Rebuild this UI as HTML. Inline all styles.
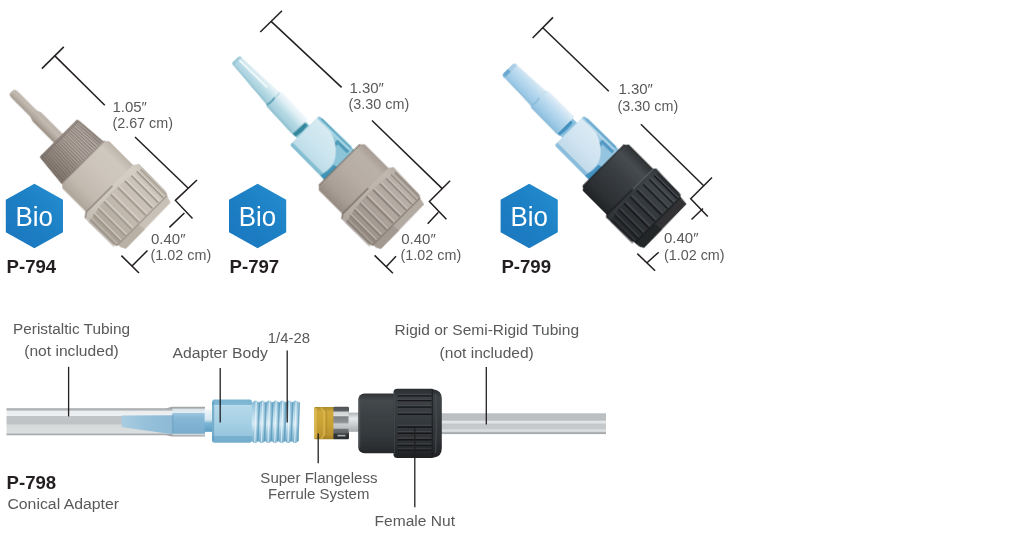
<!DOCTYPE html>
<html>
<head>
<meta charset="utf-8">
<title>Conical Adapters</title>
<style>
html,body{margin:0;padding:0;background:#fff;}
body{width:1030px;height:534px;overflow:hidden;font-family:"Liberation Sans",sans-serif;}
svg{display:block;}
text{font-family:"Liberation Sans",sans-serif;}
.dim{stroke:#231f20;stroke-width:1.5;fill:none;stroke-linecap:butt;}
.lead{stroke:#231f20;stroke-width:1.3;fill:none;}
.t{font-size:15px;fill:#58595b;}
.lbl{font-size:15.5px;fill:#58595b;}
.pn{font-size:18.6px;font-weight:bold;fill:#231f20;}
.bio{font-size:27.8px;fill:#fff;}
</style>
</head>
<body>
<svg width="1030" height="534" viewBox="0 0 1030 534">
<defs>
  <linearGradient id="hexg" x1="0" y1="1" x2="1" y2="0">
    <stop offset="0" stop-color="#1a76be"/>
    <stop offset="0.55" stop-color="#1d80c5"/>
    <stop offset="1" stop-color="#258fd0"/>
  </linearGradient>
  <filter id="soft" x="-5%" y="-5%" width="110%" height="110%"><feGaussianBlur stdDeviation="0.55"/></filter>
  <linearGradient id="f1pin" gradientUnits="userSpaceOnUse" x1="0" y1="-6.2" x2="0" y2="6.2"><stop offset="0" stop-color="#bab1a8"/><stop offset="0.35" stop-color="#c3bab1"/><stop offset="0.7" stop-color="#b0a69c"/><stop offset="1" stop-color="#978d83"/></linearGradient>
<linearGradient id="f1col" gradientUnits="userSpaceOnUse" x1="0" y1="-28" x2="0" y2="29"><stop offset="0" stop-color="#9f948c"/><stop offset="0.1" stop-color="#bdb2aa"/><stop offset="0.4" stop-color="#b5aaa2"/><stop offset="0.75" stop-color="#9c9188"/><stop offset="1" stop-color="#82776f"/></linearGradient>
<linearGradient id="n1b" gradientUnits="userSpaceOnUse" x1="0" y1="-34.0" x2="0" y2="32.400000000000006"><stop offset="0" stop-color="#bdb4aa"/><stop offset="0.15" stop-color="#cfc8bf"/><stop offset="0.45" stop-color="#cdc5bc"/><stop offset="0.8" stop-color="#c1b8ae"/><stop offset="1" stop-color="#aca399"/></linearGradient>
<linearGradient id="n1h" gradientUnits="userSpaceOnUse" x1="0" y1="-39.0" x2="0" y2="37.400000000000006"><stop offset="0" stop-color="#b5aca2"/><stop offset="0.12" stop-color="#cdc6bd"/><stop offset="0.5" stop-color="#c6bdb3"/><stop offset="0.82" stop-color="#b5aca1"/><stop offset="1" stop-color="#9f958b"/></linearGradient>
<linearGradient id="c2c" gradientUnits="userSpaceOnUse" x1="0" y1="-21" x2="0" y2="21"><stop offset="0" stop-color="#6fb1c9"/><stop offset="0.08" stop-color="#9ccfe0"/><stop offset="0.2" stop-color="#8cc4d8"/><stop offset="0.8" stop-color="#8fc6d8"/><stop offset="0.9" stop-color="#86bfd3"/><stop offset="1" stop-color="#74b3c9"/></linearGradient>
<linearGradient id="c2f" gradientUnits="userSpaceOnUse" x1="0" y1="-18" x2="0" y2="18"><stop offset="0" stop-color="#d7ebf2"/><stop offset="0.6" stop-color="#cbe4ee"/><stop offset="1" stop-color="#bcdce8"/></linearGradient>
<linearGradient id="n2b" gradientUnits="userSpaceOnUse" x1="0" y1="-32.4" x2="0" y2="32.4"><stop offset="0" stop-color="#a69c94"/><stop offset="0.15" stop-color="#bab1a9"/><stop offset="0.45" stop-color="#b7ada5"/><stop offset="0.8" stop-color="#a99f97"/><stop offset="1" stop-color="#958b83"/></linearGradient>
<linearGradient id="n2h" gradientUnits="userSpaceOnUse" x1="0" y1="-36.4" x2="0" y2="36.4"><stop offset="0" stop-color="#9f958d"/><stop offset="0.12" stop-color="#b9b0a8"/><stop offset="0.5" stop-color="#b0a69e"/><stop offset="0.82" stop-color="#a0968e"/><stop offset="1" stop-color="#8b8179"/></linearGradient>
<linearGradient id="f2cone" gradientUnits="userSpaceOnUse" x1="0" y1="-12.4" x2="0" y2="9"><stop offset="0" stop-color="#f1f8fb"/><stop offset="0.22" stop-color="#e2f0f5"/><stop offset="0.4" stop-color="#cbe5ed"/><stop offset="0.55" stop-color="#b8dbe6"/><stop offset="0.8" stop-color="#a7d0dd"/><stop offset="1" stop-color="#93c3d2"/></linearGradient>
<linearGradient id="f3tube" gradientUnits="userSpaceOnUse" x1="0" y1="-13.5" x2="0" y2="11.3"><stop offset="0" stop-color="#e4f0f8"/><stop offset="0.18" stop-color="#d0e5f3"/><stop offset="0.42" stop-color="#b9d9ee"/><stop offset="0.7" stop-color="#a3cde8"/><stop offset="1" stop-color="#89bee0"/></linearGradient>
<linearGradient id="c3c" gradientUnits="userSpaceOnUse" x1="0" y1="-21.4" x2="0" y2="20.6"><stop offset="0" stop-color="#6dadd2"/><stop offset="0.08" stop-color="#a3cee6"/><stop offset="0.2" stop-color="#93c4e0"/><stop offset="0.8" stop-color="#97c7e1"/><stop offset="0.9" stop-color="#8bbedb"/><stop offset="1" stop-color="#74b0d3"/></linearGradient>
<linearGradient id="c3f" gradientUnits="userSpaceOnUse" x1="0" y1="-18.4" x2="0" y2="17.6"><stop offset="0" stop-color="#dcebf4"/><stop offset="0.6" stop-color="#cfe3f0"/><stop offset="1" stop-color="#c0daea"/></linearGradient>
<linearGradient id="n3b" gradientUnits="userSpaceOnUse" x1="0" y1="-32.2" x2="0" y2="33.0"><stop offset="0" stop-color="#2e3134"/><stop offset="0.18" stop-color="#474c50"/><stop offset="0.45" stop-color="#393d41"/><stop offset="0.8" stop-color="#2e3134"/><stop offset="1" stop-color="#212426"/></linearGradient>
<linearGradient id="n3h" gradientUnits="userSpaceOnUse" x1="0" y1="-34.4" x2="0" y2="35.199999999999996"><stop offset="0" stop-color="#2a2d30"/><stop offset="0.14" stop-color="#42474b"/><stop offset="0.5" stop-color="#34383b"/><stop offset="0.82" stop-color="#2a2d30"/><stop offset="1" stop-color="#1e2022"/></linearGradient>
<linearGradient id="ptube" gradientUnits="userSpaceOnUse" x1="0" y1="408.3" x2="0" y2="435.2"><stop offset="0" stop-color="#a3a7a9"/><stop offset="0.07" stop-color="#b4b8ba"/><stop offset="0.1" stop-color="#e9ebec"/><stop offset="0.27" stop-color="#eef0f1"/><stop offset="0.29" stop-color="#c2c5c7"/><stop offset="0.58" stop-color="#bfc2c4"/><stop offset="0.62" stop-color="#d6d9da"/><stop offset="0.92" stop-color="#dcdfe0"/><stop offset="0.95" stop-color="#b0b4b6"/><stop offset="1" stop-color="#9da1a3"/></linearGradient>
<linearGradient id="pcone" gradientUnits="userSpaceOnUse" x1="121" y1="0" x2="172" y2="0"><stop offset="0" stop-color="#a9cde1"/><stop offset="0.5" stop-color="#96c0da"/><stop offset="1" stop-color="#8ebad6"/></linearGradient>
<linearGradient id="pcone2" gradientUnits="userSpaceOnUse" x1="0" y1="413" x2="0" y2="434"><stop offset="0" stop-color="#9cc6de"/><stop offset="0.25" stop-color="#86b7d5"/><stop offset="0.6" stop-color="#7fb2d2"/><stop offset="1" stop-color="#78accd"/></linearGradient>
<linearGradient id="aneck" gradientUnits="userSpaceOnUse" x1="0" y1="409.6" x2="0" y2="431.8"><stop offset="0" stop-color="#eef5f9"/><stop offset="0.45" stop-color="#d5e8f2"/><stop offset="0.62" stop-color="#7cb4d4"/><stop offset="1" stop-color="#5b9fc6"/></linearGradient>
<linearGradient id="ahex" gradientUnits="userSpaceOnUse" x1="0" y1="399.6" x2="0" y2="442.8"><stop offset="0" stop-color="#79b3d0"/><stop offset="0.115" stop-color="#80b9d5"/><stop offset="0.13" stop-color="#c0deec"/><stop offset="0.16" stop-color="#b3d8e9"/><stop offset="0.5" stop-color="#a8d1e5"/><stop offset="0.83" stop-color="#97c6de"/><stop offset="0.845" stop-color="#78b0cf"/><stop offset="1" stop-color="#75adcc"/></linearGradient>
<linearGradient id="athr" gradientUnits="userSpaceOnUse" x1="0" y1="400" x2="0" y2="443.5"><stop offset="0" stop-color="#7db4d0"/><stop offset="0.15" stop-color="#9cc9e0"/><stop offset="0.42" stop-color="#c3e0ee"/><stop offset="0.55" stop-color="#d3e9f3"/><stop offset="0.75" stop-color="#9dc9e0"/><stop offset="1" stop-color="#6fa8c8"/></linearGradient>
<linearGradient id="fer" gradientUnits="userSpaceOnUse" x1="0" y1="407" x2="0" y2="439.2"><stop offset="0" stop-color="#ae8a2a"/><stop offset="0.15" stop-color="#cfa93c"/><stop offset="0.5" stop-color="#c9a235"/><stop offset="0.85" stop-color="#bd9530"/><stop offset="1" stop-color="#a27f26"/></linearGradient>
<linearGradient id="ring" gradientUnits="userSpaceOnUse" x1="0" y1="406.8" x2="0" y2="439.2"><stop offset="0" stop-color="#4d5154"/><stop offset="0.12" stop-color="#5d6164"/><stop offset="0.17" stop-color="#cfd2d3"/><stop offset="0.27" stop-color="#dcdedf"/><stop offset="0.31" stop-color="#7e8284"/><stop offset="0.48" stop-color="#8e9294"/><stop offset="0.53" stop-color="#c9cccd"/><stop offset="0.66" stop-color="#bdc0c2"/><stop offset="0.7" stop-color="#6e7274"/><stop offset="0.8" stop-color="#5e6264"/><stop offset="0.85" stop-color="#33363a"/><stop offset="1" stop-color="#2a2c2e"/></linearGradient>
<linearGradient id="stub" gradientUnits="userSpaceOnUse" x1="0" y1="412.6" x2="0" y2="431.8"><stop offset="0" stop-color="#b0b4b6"/><stop offset="0.3" stop-color="#e6e8e9"/><stop offset="0.6" stop-color="#cdd0d2"/><stop offset="1" stop-color="#a7abad"/></linearGradient>
<linearGradient id="rtube" gradientUnits="userSpaceOnUse" x1="0" y1="413.4" x2="0" y2="434.1"><stop offset="0" stop-color="#adb1b3"/><stop offset="0.05" stop-color="#babec0"/><stop offset="0.33" stop-color="#bcc0c2"/><stop offset="0.38" stop-color="#e5e7e8"/><stop offset="0.47" stop-color="#dee1e2"/><stop offset="0.52" stop-color="#c5c8ca"/><stop offset="0.75" stop-color="#c7cacc"/><stop offset="0.8" stop-color="#e0e2e3"/><stop offset="0.88" stop-color="#d5d8d9"/><stop offset="0.92" stop-color="#aeb2b4"/><stop offset="1" stop-color="#a3a7a9"/></linearGradient>
<linearGradient id="bnb" gradientUnits="userSpaceOnUse" x1="0" y1="393.4" x2="0" y2="453.2"><stop offset="0" stop-color="#303336"/><stop offset="0.12" stop-color="#44494c"/><stop offset="0.35" stop-color="#3d4144"/><stop offset="0.7" stop-color="#35393c"/><stop offset="1" stop-color="#26292b"/></linearGradient>
<linearGradient id="bnh" gradientUnits="userSpaceOnUse" x1="0" y1="388.8" x2="0" y2="458"><stop offset="0" stop-color="#292c2f"/><stop offset="0.12" stop-color="#3d4245"/><stop offset="0.4" stop-color="#383c3f"/><stop offset="0.75" stop-color="#2e3134"/><stop offset="1" stop-color="#1f2123"/></linearGradient>
</defs>

<!-- ============ DIMENSION LINES ============ -->
<g class="dim" id="dims">
  <!-- P-794 -->
  <path d="M41.9,68.6 L63.8,46.9"/>
  <path d="M54.6,55.6 L104.8,105.3"/>
  <path d="M135,137 L188,188"/>
  <path d="M197,180 L175.4,200.4 L192.5,218.4"/>
  <path d="M184.4,213 L169.4,227.4"/>
  <path d="M147.5,250.5 L132,266"/>
  <path d="M121.4,255.6 L139,273"/>
  <!-- P-797 -->
  <path d="M260.3,32 L282,10.8"/>
  <path d="M271.1,21.4 L341.6,87.4"/>
  <path d="M372,120.5 L442.2,188.6"/>
  <path d="M450.1,180.7 L429.4,201.4 L446.4,219.2"/>
  <path d="M438.4,212.3 L427.7,223.8"/>
  <path d="M396,256.2 L386.2,266.7"/>
  <path d="M374.6,255.4 L392.9,273.2"/>
  <!-- P-799 -->
  <path d="M532.6,38 L553,17.4"/>
  <path d="M542.8,27.7 L608.8,91.3"/>
  <path d="M640.9,124.2 L703.7,185.8"/>
  <path d="M712,177.5 L690.7,198.8 L707.8,216.6"/>
  <path d="M703,208.5 L691.5,219.5"/>
  <path d="M658.7,252.2 L646.7,263"/>
  <path d="M637.3,253.6 L655.1,270.7"/>
</g>

<!-- ============ DIMENSION TEXT ============ -->
<g class="t" id="dimtext" opacity="0.999">
  <text x="112.4" y="111.6">1.05″</text>
  <text x="112.4" y="128.4" textLength="60.6" lengthAdjust="spacingAndGlyphs">(2.67 cm)</text>
  <text x="151" y="243.6">0.40″</text>
  <text x="150.6" y="260" textLength="60.6" lengthAdjust="spacingAndGlyphs">(1.02 cm)</text>

  <text x="349.4" y="93.2">1.30″</text>
  <text x="348.6" y="109.3" textLength="60.6" lengthAdjust="spacingAndGlyphs">(3.30 cm)</text>
  <text x="401.2" y="243.6">0.40″</text>
  <text x="400.6" y="260.4" textLength="60.6" lengthAdjust="spacingAndGlyphs">(1.02 cm)</text>

  <text x="618.4" y="94.4">1.30″</text>
  <text x="617.6" y="111.3" textLength="60.6" lengthAdjust="spacingAndGlyphs">(3.30 cm)</text>
  <text x="664" y="243">0.40″</text>
  <text x="664" y="260" textLength="60.6" lengthAdjust="spacingAndGlyphs">(1.02 cm)</text>
</g>

<!-- ============ FITTING 1 : P-794 ============ -->
<g id="fit1" transform="translate(12.2,92.2) rotate(45)" filter="url(#soft)">
  <path d="M-0.8,-2.8 L0.8,-4 L3.5,-4.5 L30,-4.5 L33,-5.6 L35,-6.2 L66,-6.2 L66,6.2 L35,6.2 L33,5.6 L30,4.5 L3.5,4.5 L0.8,4 L-0.8,2.8 Z" fill="url(#f1pin)"/>
<path d="M30,-4 Q34,-1 35,5.6" stroke="#b3aaa0" stroke-width="0.8" fill="none" stroke-opacity="0.7"/>
<path d="M67,-27.2 L98.8,-29.7 L100.5,30 L67,26.8 Q65.2,26.6 65.2,25 L65.2,-25.4 Q65.2,-27.2 67,-27.2 Z" fill="url(#f1col)"/>
<line x1="67.8" y1="-26.20" x2="99.5" y2="-28.70" stroke="#675e57" stroke-width="1.05" stroke-opacity="0.72"/>
<line x1="67.8" y1="-23.84" x2="99.5" y2="-26.08" stroke="#675e57" stroke-width="1.05" stroke-opacity="0.72"/>
<line x1="67.8" y1="-21.47" x2="99.5" y2="-23.45" stroke="#675e57" stroke-width="1.05" stroke-opacity="0.72"/>
<line x1="67.8" y1="-19.11" x2="99.5" y2="-20.83" stroke="#675e57" stroke-width="1.05" stroke-opacity="0.72"/>
<line x1="67.8" y1="-16.75" x2="99.5" y2="-18.21" stroke="#675e57" stroke-width="1.05" stroke-opacity="0.72"/>
<line x1="67.8" y1="-14.38" x2="99.5" y2="-15.59" stroke="#675e57" stroke-width="1.05" stroke-opacity="0.72"/>
<line x1="67.8" y1="-12.02" x2="99.5" y2="-12.96" stroke="#675e57" stroke-width="1.05" stroke-opacity="0.72"/>
<line x1="67.8" y1="-9.65" x2="99.5" y2="-10.34" stroke="#675e57" stroke-width="1.05" stroke-opacity="0.72"/>
<line x1="67.8" y1="-7.29" x2="99.5" y2="-7.72" stroke="#675e57" stroke-width="1.05" stroke-opacity="0.72"/>
<line x1="67.8" y1="-4.93" x2="99.5" y2="-5.10" stroke="#675e57" stroke-width="1.05" stroke-opacity="0.72"/>
<line x1="67.8" y1="-2.56" x2="99.5" y2="-2.47" stroke="#675e57" stroke-width="1.05" stroke-opacity="0.72"/>
<line x1="67.8" y1="-0.20" x2="99.5" y2="0.15" stroke="#675e57" stroke-width="1.05" stroke-opacity="0.72"/>
<line x1="67.8" y1="2.16" x2="99.5" y2="2.77" stroke="#675e57" stroke-width="1.05" stroke-opacity="0.72"/>
<line x1="67.8" y1="4.53" x2="99.5" y2="5.40" stroke="#675e57" stroke-width="1.05" stroke-opacity="0.72"/>
<line x1="67.8" y1="6.89" x2="99.5" y2="8.02" stroke="#675e57" stroke-width="1.05" stroke-opacity="0.72"/>
<line x1="67.8" y1="9.25" x2="99.5" y2="10.64" stroke="#675e57" stroke-width="1.05" stroke-opacity="0.72"/>
<line x1="67.8" y1="11.62" x2="99.5" y2="13.26" stroke="#675e57" stroke-width="1.05" stroke-opacity="0.72"/>
<line x1="67.8" y1="13.98" x2="99.5" y2="15.89" stroke="#675e57" stroke-width="1.05" stroke-opacity="0.72"/>
<line x1="67.8" y1="16.35" x2="99.5" y2="18.51" stroke="#675e57" stroke-width="1.05" stroke-opacity="0.72"/>
<line x1="67.8" y1="18.71" x2="99.5" y2="21.13" stroke="#675e57" stroke-width="1.05" stroke-opacity="0.72"/>
<line x1="67.8" y1="21.07" x2="99.5" y2="23.75" stroke="#675e57" stroke-width="1.05" stroke-opacity="0.72"/>
<line x1="67.8" y1="23.44" x2="99.5" y2="26.38" stroke="#675e57" stroke-width="1.05" stroke-opacity="0.72"/>
<line x1="67.8" y1="25.80" x2="99.5" y2="29.00" stroke="#675e57" stroke-width="1.05" stroke-opacity="0.72"/>
<rect x="65.2" y="-26.4" width="2.8" height="52.6" fill="#6d645e" fill-opacity="0.55"/>
<polygon points="99.60,-30.70 103.40,-34.00 137.10,-34.00 137.10,32.40 103.40,32.40 99.60,29.10" fill="url(#n1b)"/>
<path d="M99.60,-30.70 L99.60,29.10" stroke="#857c75" stroke-width="1.3" fill="none" stroke-opacity="0.75"/>
<polygon points="137.10,-34.00 140.60,-39.00 178.60,-38.40 182.60,-36.40 182.60,34.80 178.60,36.80 140.60,37.40 137.10,32.40" fill="url(#n1h)"/>
<polygon points="137.10,-34.00 140.60,-39.00 146.10,-38.80 142.60,-20.80 141.10,-0.80 142.60,19.20 146.10,37.20 140.60,37.40 137.10,32.40" fill="#d9d3ca" fill-opacity="0.6"/>
<line x1="145.1" y1="-36.88" x2="181.4" y2="-36.88" stroke="#93897f" stroke-width="1.03" stroke-opacity="0.85"/>
<line x1="145.1" y1="-37.76" x2="181.4" y2="-37.76" stroke="#e3ded6" stroke-width="0.83" stroke-opacity="0.7"/>
<line x1="144.0" y1="-32.26" x2="181.4" y2="-32.26" stroke="#93897f" stroke-width="1.43" stroke-opacity="0.85"/>
<line x1="144.0" y1="-33.47" x2="181.4" y2="-33.47" stroke="#e3ded6" stroke-width="1.14" stroke-opacity="0.7"/>
<line x1="143.2" y1="-25.48" x2="181.4" y2="-25.48" stroke="#93897f" stroke-width="1.75" stroke-opacity="0.85"/>
<line x1="143.2" y1="-26.97" x2="181.4" y2="-26.97" stroke="#e3ded6" stroke-width="1.40" stroke-opacity="0.7"/>
<line x1="142.5" y1="-17.03" x2="181.4" y2="-17.03" stroke="#93897f" stroke-width="1.99" stroke-opacity="0.85"/>
<line x1="142.5" y1="-18.72" x2="181.4" y2="-18.72" stroke="#e3ded6" stroke-width="1.59" stroke-opacity="0.7"/>
<line x1="142.2" y1="-7.47" x2="181.4" y2="-7.47" stroke="#93897f" stroke-width="2.12" stroke-opacity="0.85"/>
<line x1="142.2" y1="-9.27" x2="181.4" y2="-9.27" stroke="#e3ded6" stroke-width="1.70" stroke-opacity="0.7"/>
<line x1="142.1" y1="2.55" x2="181.4" y2="2.55" stroke="#93897f" stroke-width="2.14" stroke-opacity="0.85"/>
<line x1="142.1" y1="0.72" x2="181.4" y2="0.72" stroke="#e3ded6" stroke-width="1.71" stroke-opacity="0.7"/>
<line x1="142.4" y1="12.33" x2="181.4" y2="12.33" stroke="#93897f" stroke-width="2.05" stroke-opacity="0.85"/>
<line x1="142.4" y1="10.59" x2="181.4" y2="10.59" stroke="#e3ded6" stroke-width="1.64" stroke-opacity="0.7"/>
<line x1="142.9" y1="21.23" x2="181.4" y2="21.23" stroke="#93897f" stroke-width="1.84" stroke-opacity="0.85"/>
<line x1="142.9" y1="19.66" x2="181.4" y2="19.66" stroke="#e3ded6" stroke-width="1.47" stroke-opacity="0.7"/>
<line x1="143.7" y1="28.62" x2="181.4" y2="28.62" stroke="#93897f" stroke-width="1.54" stroke-opacity="0.85"/>
<line x1="143.7" y1="27.30" x2="181.4" y2="27.30" stroke="#e3ded6" stroke-width="1.23" stroke-opacity="0.7"/>
<line x1="144.7" y1="34.00" x2="181.4" y2="34.00" stroke="#93897f" stroke-width="1.17" stroke-opacity="0.85"/>
<line x1="144.7" y1="33.01" x2="181.4" y2="33.01" stroke="#e3ded6" stroke-width="0.93" stroke-opacity="0.7"/>
<line x1="145.8" y1="37.02" x2="181.4" y2="37.02" stroke="#93897f" stroke-width="0.75" stroke-opacity="0.85"/>
<line x1="145.8" y1="36.38" x2="181.4" y2="36.38" stroke="#e3ded6" stroke-width="0.60" stroke-opacity="0.7"/>
<path d="M137.10,-4.80 L137.10,32.40 L140.60,37.40" stroke="#7d746c" stroke-width="1.5" fill="none" stroke-opacity="0.75"/>
<polygon points="182.10,-36.40 190.10,-33.90 191.10,30.30 187.10,32.60 182.10,33.30" fill="#c9c1b7"/>
<polygon points="182.60,4.20 190.90,3.20 191.10,30.30 187.10,32.60 182.10,33.30" fill="#b0a79d" fill-opacity="0.65"/>
<path d="M182.60,-36.40 L182.60,34.80" stroke="#978e84" stroke-width="1.2" fill="none" stroke-opacity="0.9"/>
</g>

<!-- ============ FITTING 2 : P-797 ============ -->
<g id="fit2c" transform="translate(235.3,59.5) rotate(47.3)" filter="url(#soft)">
  <path d="M92,-9.5 L104,-10 L104,8 L92,8 Z" fill="#8dc6d8"/>
<path d="M92.5,-8 L97.5,-8.4 Q99.2,0 97.5,8.2 L92.5,8.5 Z" fill="#2f8199" fill-opacity="0.92"/>
<path d="M0,-4.4 L1.5,-6 L54,-10.3 L56,-12.4 L92,-12.6 L93.5,-11 L93.5,7.6 L92,8.8 L56,8.8 L54,7.6 L1.5,5.2 L0,4 Z" fill="url(#f2cone)"/>
<path d="M54.6,-3 Q56.3,3 54.5,7.8" stroke="#4a96ae" stroke-width="1.8" fill="none" stroke-opacity="0.9"/>
<path d="M54.2,-10 Q55.8,-6 54.6,-3" stroke="#9fccd9" stroke-width="1.4" fill="none" stroke-opacity="0.7"/>
<path d="M3,-2.6 L42,-4.6" stroke="#ffffff" stroke-width="1.5" fill="none" stroke-opacity="0.9"/>
<path d="M0,-4.4 L1.5,-6 L3.2,-6.1 L3.2,5.3 L1.5,5.2 L0,4 Z" fill="#9ac7d6" fill-opacity="0.75"/>
<path d="M1.5,5.2 L54,7.6 L54,5.6 L1.5,3.9 Z" fill="#8dbfce" fill-opacity="0.6"/>
<path d="M56,8.8 L92,8.8 L92,6.6 L56,6.6 Z" fill="#8dbfce" fill-opacity="0.5"/>
</g>
<g id="fit2" transform="translate(339.3,164.8) rotate(45)" filter="url(#soft)">
  <path d="M-46.6,-20.6 L0.0,-21.0 L0.0,21.2 L-46.6,21.0 Q-48.8,21.0 -48.8,18.8 L-48.8,-18.4 Q-48.8,-20.6 -46.6,-20.6 Z" fill="url(#c2c)"/>
<path d="M-45.0,-21.0 L-4.0,-21.6 L-4.0,-19.4 L-45.0,-19.0 Z" fill="#5ba6c2" fill-opacity="0.9"/>
<path d="M-40.0,-18.3 L-4.0,-18.6 L-4.0,-17.0 L-40.0,-16.9 Z" fill="#b5dce9" fill-opacity="0.8"/>
<path d="M-19.0,-16.6 L-2.5,-17.0 L-2.5,-13.6 L-15.5,-13.4 L-15.5,-10.0 L-19.0,-10.0 Z" fill="#4796b6" fill-opacity="0.9"/>
<path d="M-48.8,-17.2 L-29.0,-17.0 Q-18.0,-13.5 -11.0,-6.0 Q-4.5,1.0 -4.2,10.0 Q-4.2,14.0 -5.5,17.4 L-48.8,17.6 Z" fill="url(#c2f)"/>
<path d="M-4.2,4.0 L0.0,3.0 L0.0,21.2 L-6.0,21.1 Q-3.6,13.0 -4.2,4.0 Z" fill="#3a8fb2" fill-opacity="0.9"/>
<path d="M-48.8,17.6 L-5.5,17.4 L-6.0,21.1 L-46.6,21.0 Q-48.8,21.0 -48.8,18.8 Z" fill="#86bfd2" fill-opacity="0.9"/>
<polygon points="0.00,-29.10 3.60,-32.40 37.00,-32.40 37.00,32.40 3.60,32.40 0.00,29.10" fill="url(#n2b)"/>
<path d="M0.00,-29.10 L0.00,29.10" stroke="#71685f" stroke-width="1.3" fill="none" stroke-opacity="0.75"/>
<polygon points="37.00,-32.40 40.00,-36.40 76.50,-35.80 80.50,-33.80 80.50,33.80 76.50,35.80 40.00,36.40 37.00,32.40" fill="url(#n2h)"/>
<polygon points="37.00,-32.40 40.00,-36.40 45.50,-36.20 42.00,-20.00 40.50,0.00 42.00,20.00 45.50,36.20 40.00,36.40 37.00,32.40" fill="#c6beb6" fill-opacity="0.6"/>
<line x1="44.5" y1="-34.39" x2="79.3" y2="-34.39" stroke="#80766e" stroke-width="1.03" stroke-opacity="0.85"/>
<line x1="44.5" y1="-35.27" x2="79.3" y2="-35.27" stroke="#d2cbc3" stroke-width="0.83" stroke-opacity="0.7"/>
<line x1="43.4" y1="-29.98" x2="79.3" y2="-29.98" stroke="#80766e" stroke-width="1.43" stroke-opacity="0.85"/>
<line x1="43.4" y1="-31.19" x2="79.3" y2="-31.19" stroke="#d2cbc3" stroke-width="1.14" stroke-opacity="0.7"/>
<line x1="42.6" y1="-23.53" x2="79.3" y2="-23.53" stroke="#80766e" stroke-width="1.75" stroke-opacity="0.85"/>
<line x1="42.6" y1="-25.02" x2="79.3" y2="-25.02" stroke="#d2cbc3" stroke-width="1.40" stroke-opacity="0.7"/>
<line x1="41.9" y1="-15.47" x2="79.3" y2="-15.47" stroke="#80766e" stroke-width="1.99" stroke-opacity="0.85"/>
<line x1="41.9" y1="-17.16" x2="79.3" y2="-17.16" stroke="#d2cbc3" stroke-width="1.59" stroke-opacity="0.7"/>
<line x1="41.6" y1="-6.36" x2="79.3" y2="-6.36" stroke="#80766e" stroke-width="2.12" stroke-opacity="0.85"/>
<line x1="41.6" y1="-8.16" x2="79.3" y2="-8.16" stroke="#d2cbc3" stroke-width="1.70" stroke-opacity="0.7"/>
<line x1="41.5" y1="3.19" x2="79.3" y2="3.19" stroke="#80766e" stroke-width="2.14" stroke-opacity="0.85"/>
<line x1="41.5" y1="1.37" x2="79.3" y2="1.37" stroke="#d2cbc3" stroke-width="1.71" stroke-opacity="0.7"/>
<line x1="41.8" y1="12.52" x2="79.3" y2="12.52" stroke="#80766e" stroke-width="2.05" stroke-opacity="0.85"/>
<line x1="41.8" y1="10.78" x2="79.3" y2="10.78" stroke="#d2cbc3" stroke-width="1.64" stroke-opacity="0.7"/>
<line x1="42.3" y1="20.99" x2="79.3" y2="20.99" stroke="#80766e" stroke-width="1.84" stroke-opacity="0.85"/>
<line x1="42.3" y1="19.43" x2="79.3" y2="19.43" stroke="#d2cbc3" stroke-width="1.47" stroke-opacity="0.7"/>
<line x1="43.1" y1="28.04" x2="79.3" y2="28.04" stroke="#80766e" stroke-width="1.54" stroke-opacity="0.85"/>
<line x1="43.1" y1="26.73" x2="79.3" y2="26.73" stroke="#d2cbc3" stroke-width="1.23" stroke-opacity="0.7"/>
<line x1="44.1" y1="33.17" x2="79.3" y2="33.17" stroke="#80766e" stroke-width="1.17" stroke-opacity="0.85"/>
<line x1="44.1" y1="32.18" x2="79.3" y2="32.18" stroke="#d2cbc3" stroke-width="0.93" stroke-opacity="0.7"/>
<line x1="45.2" y1="36.04" x2="79.3" y2="36.04" stroke="#80766e" stroke-width="0.75" stroke-opacity="0.85"/>
<line x1="45.2" y1="35.41" x2="79.3" y2="35.41" stroke="#d2cbc3" stroke-width="0.60" stroke-opacity="0.7"/>
<path d="M37.00,-4.00 L37.00,32.40 L40.00,36.40" stroke="#6b625b" stroke-width="1.5" fill="none" stroke-opacity="0.75"/>
<polygon points="80.00,-33.80 88.00,-32.00 89.00,30.00 85.00,32.30 80.00,33.00" fill="#b3aaa2"/>
<polygon points="80.50,5.00 88.80,4.00 89.00,30.00 85.00,32.30 80.00,33.00" fill="#9a9088" fill-opacity="0.65"/>
<path d="M80.50,-33.80 L80.50,33.80" stroke="#857b73" stroke-width="1.2" fill="none" stroke-opacity="0.9"/>
</g>

<!-- ============ FITTING 3 : P-799 ============ -->
<g id="fit3" transform="translate(507.7,69) rotate(45)" filter="url(#soft)">
  <rect x="79" y="-11" width="10" height="21" fill="#8fc3e0"/>
<path d="M80.5,-8 L84,-8.3 Q85.6,0 84,10.6 L80.5,10.8 Z" fill="#3d8dbd" fill-opacity="0.9"/>
<path d="M0,-7.2 L1.6,-9.3 L42,-11.5 L44.5,-13.3 L81,-13.6 L81,11.3 L44.5,11 L42,9.6 L1.6,8.3 L0,6.8 Z" fill="url(#f3tube)"/>
<path d="M42.6,-2 Q44.5,4 42.5,9.8" stroke="#86b7d4" stroke-width="1.5" fill="none" stroke-opacity="0.85"/>
<path d="M42.4,-11 Q44,-6 42.6,-2" stroke="#bcd7e6" stroke-width="1.2" fill="none" stroke-opacity="0.7"/>
<path d="M0,0 L0,6.8 L1.6,8.3 L4.2,8.4 L4.2,0 Z" fill="#5b9fca" fill-opacity="0.8"/>
<path d="M0,-7.2 L1.6,-9.3 L4.2,-9.4 L4.2,0 L0,0 Z" fill="#9cc5de" fill-opacity="0.6"/>
<path d="M1.6,8.3 L42,9.6 L42,7.4 L1.6,6.4 Z" fill="#93bcd6" fill-opacity="0.55"/>
<path d="M44.5,11 L81,11.3 L81,8.8 L44.5,8.6 Z" fill="#93bcd6" fill-opacity="0.5"/>
<path d="M89.3,-21.0 L135.9,-21.4 L135.9,20.8 L89.3,20.6 Q87.1,20.6 87.1,18.4 L87.1,-18.8 Q87.1,-21.0 89.3,-21.0 Z" fill="url(#c3c)"/>
<path d="M90.9,-21.4 L131.9,-22.0 L131.9,-19.8 L90.9,-19.4 Z" fill="#5fa4cc" fill-opacity="0.9"/>
<path d="M95.9,-18.7 L131.9,-19.0 L131.9,-17.4 L95.9,-17.3 Z" fill="#c2dfee" fill-opacity="0.8"/>
<path d="M116.9,-17.0 L133.4,-17.4 L133.4,-14.0 L120.4,-13.8 L120.4,-10.4 L116.9,-10.4 Z" fill="#4a94c2" fill-opacity="0.9"/>
<path d="M87.1,-17.6 L106.9,-17.4 Q117.9,-13.9 124.9,-6.4 Q131.4,0.6 131.7,9.6 Q131.7,13.6 130.4,17.0 L87.1,17.2 Z" fill="url(#c3f)"/>
<path d="M131.7,3.6 L135.9,2.6 L135.9,20.8 L129.9,20.7 Q132.3,12.6 131.7,3.6 Z" fill="#3a8bbd" fill-opacity="0.9"/>
<path d="M87.1,17.2 L130.4,17.0 L129.9,20.7 L89.3,20.6 Q87.1,20.6 87.1,18.4 Z" fill="#8abedb" fill-opacity="0.9"/>
<polygon points="135.90,-28.70 139.30,-32.20 173.40,-32.20 173.40,33.00 139.30,33.00 135.90,29.50" fill="url(#n3b)"/>
<path d="M135.90,-28.70 L135.90,29.50" stroke="#16171a" stroke-width="1.3" fill="none" stroke-opacity="0.75"/>
<polygon points="173.40,-32.20 175.40,-34.40 208.90,-33.80 212.90,-31.80 212.90,32.60 208.90,34.60 175.40,35.20 173.40,33.00" fill="url(#n3h)"/>
<polygon points="173.40,-32.20 175.40,-34.40 180.90,-34.20 177.40,-19.60 175.90,0.40 177.40,20.40 180.90,35.00 175.40,35.20 173.40,33.00" fill="#3b3f43" fill-opacity="0.6"/>
<line x1="179.9" y1="-32.49" x2="211.7" y2="-32.49" stroke="#121315" stroke-width="1.03" stroke-opacity="0.85"/>
<line x1="179.9" y1="-33.37" x2="211.7" y2="-33.37" stroke="#51565b" stroke-width="0.83" stroke-opacity="0.7"/>
<line x1="178.8" y1="-28.27" x2="211.7" y2="-28.27" stroke="#121315" stroke-width="1.43" stroke-opacity="0.85"/>
<line x1="178.8" y1="-29.48" x2="211.7" y2="-29.48" stroke="#51565b" stroke-width="1.14" stroke-opacity="0.7"/>
<line x1="178.0" y1="-22.10" x2="211.7" y2="-22.10" stroke="#121315" stroke-width="1.75" stroke-opacity="0.85"/>
<line x1="178.0" y1="-23.59" x2="211.7" y2="-23.59" stroke="#51565b" stroke-width="1.40" stroke-opacity="0.7"/>
<line x1="177.3" y1="-14.39" x2="211.7" y2="-14.39" stroke="#121315" stroke-width="1.99" stroke-opacity="0.85"/>
<line x1="177.3" y1="-16.08" x2="211.7" y2="-16.08" stroke="#51565b" stroke-width="1.59" stroke-opacity="0.7"/>
<line x1="177.0" y1="-5.68" x2="211.7" y2="-5.68" stroke="#121315" stroke-width="2.12" stroke-opacity="0.85"/>
<line x1="177.0" y1="-7.48" x2="211.7" y2="-7.48" stroke="#51565b" stroke-width="1.70" stroke-opacity="0.7"/>
<line x1="176.9" y1="3.45" x2="211.7" y2="3.45" stroke="#121315" stroke-width="2.14" stroke-opacity="0.85"/>
<line x1="176.9" y1="1.63" x2="211.7" y2="1.63" stroke="#51565b" stroke-width="1.71" stroke-opacity="0.7"/>
<line x1="177.2" y1="12.37" x2="211.7" y2="12.37" stroke="#121315" stroke-width="2.05" stroke-opacity="0.85"/>
<line x1="177.2" y1="10.63" x2="211.7" y2="10.63" stroke="#51565b" stroke-width="1.64" stroke-opacity="0.7"/>
<line x1="177.7" y1="20.48" x2="211.7" y2="20.48" stroke="#121315" stroke-width="1.84" stroke-opacity="0.85"/>
<line x1="177.7" y1="18.91" x2="211.7" y2="18.91" stroke="#51565b" stroke-width="1.47" stroke-opacity="0.7"/>
<line x1="178.5" y1="27.21" x2="211.7" y2="27.21" stroke="#121315" stroke-width="1.54" stroke-opacity="0.85"/>
<line x1="178.5" y1="25.90" x2="211.7" y2="25.90" stroke="#51565b" stroke-width="1.23" stroke-opacity="0.7"/>
<line x1="179.5" y1="32.12" x2="211.7" y2="32.12" stroke="#121315" stroke-width="1.17" stroke-opacity="0.85"/>
<line x1="179.5" y1="31.13" x2="211.7" y2="31.13" stroke="#51565b" stroke-width="0.93" stroke-opacity="0.7"/>
<line x1="180.6" y1="34.87" x2="211.7" y2="34.87" stroke="#121315" stroke-width="0.75" stroke-opacity="0.85"/>
<line x1="180.6" y1="34.23" x2="211.7" y2="34.23" stroke="#51565b" stroke-width="0.60" stroke-opacity="0.7"/>
<path d="M173.40,-3.60 L173.40,33.00 L175.40,35.20" stroke="#101113" stroke-width="1.5" fill="none" stroke-opacity="0.75"/>
<polygon points="212.40,-31.80 221.90,-31.10 222.90,29.90 218.90,32.20 212.40,32.90" fill="#303336"/>
<polygon points="212.90,5.40 222.70,4.40 222.90,29.90 218.90,32.20 212.40,32.90" fill="#1c1e20" fill-opacity="0.65"/>
<path d="M212.90,-31.80 L212.90,32.60" stroke="#151618" stroke-width="1.2" fill="none" stroke-opacity="0.9"/>
</g>

<!-- ============ BIO HEXAGONS ============ -->
<g id="hex" opacity="0.999">
  <g transform="translate(34.4,216)">
    <polygon points="0,-32.2 28.6,-16.2 28.6,16.2 0,32.2 -28.6,16.2 -28.6,-16.2" fill="url(#hexg)"/>
    <text class="bio" x="-18.8" y="10" textLength="37.4" lengthAdjust="spacingAndGlyphs">Bio</text>
  </g>
  <g transform="translate(257.6,216)">
    <polygon points="0,-32.2 28.6,-16.2 28.6,16.2 0,32.2 -28.6,16.2 -28.6,-16.2" fill="url(#hexg)"/>
    <text class="bio" x="-18.8" y="10" textLength="37.4" lengthAdjust="spacingAndGlyphs">Bio</text>
  </g>
  <g transform="translate(529.2,216)">
    <polygon points="0,-32.2 28.6,-16.2 28.6,16.2 0,32.2 -28.6,16.2 -28.6,-16.2" fill="url(#hexg)"/>
    <text class="bio" x="-18.8" y="10" textLength="37.4" lengthAdjust="spacingAndGlyphs">Bio</text>
  </g>
</g>

<!-- ============ PART NUMBERS ============ -->
<g opacity="0.999"><text class="pn" x="6.6" y="272.6">P-794</text>
<text class="pn" x="229.6" y="272.6">P-797</text>
<text class="pn" x="501.4" y="272.6">P-799</text>
<text class="pn" x="6.6" y="489">P-798</text>
<text class="lbl" x="7.4" y="509" textLength="111.7" lengthAdjust="spacingAndGlyphs">Conical Adapter</text></g>

<!-- ============ ASSEMBLY ============ -->
<g id="assembly" filter="url(#soft)">
  <path d="M6.5,408.3 L166,408.3 L172,406.7 L205,406.7 L205,436.5 L172,436.5 L166,435.2 L6.5,435.2 Z" fill="url(#ptube)"/>
<path d="M121.6,415.5 L172.5,415.2 L172.5,434.1 L160,432.4 L130,428.2 L121.6,427 Z" fill="url(#pcone)"/>
<rect x="172.5" y="413" width="32.6" height="20.8" fill="url(#pcone2)"/>
<rect x="172" y="414.6" width="1.5" height="19" fill="#6a9fc2" fill-opacity="0.7"/>
<rect x="172.5" y="408.6" width="32.5" height="4.4" fill="#dfeaf1" fill-opacity="0.9"/>
<rect x="172.5" y="433.8" width="32.5" height="1.6" fill="#d5dadd" fill-opacity="0.9"/>
<rect x="204.6" y="409.6" width="8.6" height="22.2" fill="url(#aneck)"/>
<rect x="212" y="399.6" width="40" height="43.2" rx="2.4" fill="url(#ahex)"/>
<rect x="212" y="402" width="2.2" height="38.5" fill="#5c9dbd" fill-opacity="0.65"/>
<path d="M251.80,402.2 L252.70,402.4 Q255.63,398.6 258.46,402.4 L259.36,402.4 Q262.29,398.6 265.11,402.4 L266.01,402.4 Q268.94,398.6 271.77,402.4 L272.67,402.4 Q275.60,398.6 278.43,402.4 L279.33,402.4 Q282.26,398.6 285.09,402.4 L285.99,402.4 Q288.91,398.6 291.74,402.4 L292.64,402.4 Q295.57,398.6 298.40,402.4 L298.40,441 Q294.57,445 291.74,441 Q287.91,445 285.09,441 Q281.26,445 278.43,441 Q274.60,445 271.77,441 Q267.94,445 265.11,441 Q261.29,445 258.46,441 Q254.63,445 251.80,441 Z" fill="url(#athr)"/>
<path d="M256.23,401 L254.73,442.6" stroke="#eaf4f9" stroke-width="1.3" fill="none" stroke-opacity="0.75"/>
<path d="M258.13,401.4 L256.63,442" stroke="#8fbfd8" stroke-width="1.2" fill="none" stroke-opacity="0.6"/>
<path d="M259.36,402.2 L257.86,441.2" stroke="#5a99b9" stroke-width="1.6" fill="none" stroke-opacity="0.8"/>
<path d="M262.89,401 L261.39,442.6" stroke="#eaf4f9" stroke-width="1.3" fill="none" stroke-opacity="0.75"/>
<path d="M264.78,401.4 L263.28,442" stroke="#8fbfd8" stroke-width="1.2" fill="none" stroke-opacity="0.6"/>
<path d="M266.01,402.2 L264.51,441.2" stroke="#5a99b9" stroke-width="1.6" fill="none" stroke-opacity="0.8"/>
<path d="M269.54,401 L268.04,442.6" stroke="#eaf4f9" stroke-width="1.3" fill="none" stroke-opacity="0.75"/>
<path d="M271.44,401.4 L269.94,442" stroke="#8fbfd8" stroke-width="1.2" fill="none" stroke-opacity="0.6"/>
<path d="M272.67,402.2 L271.17,441.2" stroke="#5a99b9" stroke-width="1.6" fill="none" stroke-opacity="0.8"/>
<path d="M276.20,401 L274.70,442.6" stroke="#eaf4f9" stroke-width="1.3" fill="none" stroke-opacity="0.75"/>
<path d="M278.10,401.4 L276.60,442" stroke="#8fbfd8" stroke-width="1.2" fill="none" stroke-opacity="0.6"/>
<path d="M279.33,402.2 L277.83,441.2" stroke="#5a99b9" stroke-width="1.6" fill="none" stroke-opacity="0.8"/>
<path d="M282.86,401 L281.36,442.6" stroke="#eaf4f9" stroke-width="1.3" fill="none" stroke-opacity="0.75"/>
<path d="M284.75,401.4 L283.25,442" stroke="#8fbfd8" stroke-width="1.2" fill="none" stroke-opacity="0.6"/>
<path d="M285.99,402.2 L284.49,441.2" stroke="#5a99b9" stroke-width="1.6" fill="none" stroke-opacity="0.8"/>
<path d="M289.51,401 L288.01,442.6" stroke="#eaf4f9" stroke-width="1.3" fill="none" stroke-opacity="0.75"/>
<path d="M291.41,401.4 L289.91,442" stroke="#8fbfd8" stroke-width="1.2" fill="none" stroke-opacity="0.6"/>
<path d="M292.64,402.2 L291.14,441.2" stroke="#5a99b9" stroke-width="1.6" fill="none" stroke-opacity="0.8"/>
<path d="M296.17,401 L294.67,442.6" stroke="#eaf4f9" stroke-width="1.3" fill="none" stroke-opacity="0.75"/>
<path d="M298.07,401.4 L296.57,442" stroke="#8fbfd8" stroke-width="1.2" fill="none" stroke-opacity="0.6"/>
<path d="M299.30,402.2 L297.80,441.2" stroke="#5a99b9" stroke-width="1.6" fill="none" stroke-opacity="0.8"/>
<path d="M314.2,408.2 Q314.2,407 315.4,407 L334.6,407 L334.6,439.2 L315.4,439.2 Q314.2,439.2 314.2,438 Z" fill="url(#fer)"/>
<rect x="314.2" y="408" width="2.6" height="30.2" fill="#e0bf58" fill-opacity="0.7"/>
<path d="M321,407.5 L324,412 L324,434.5 L321,439" stroke="#dcb84f" stroke-width="2.2" fill="none" stroke-opacity="0.65"/>
<path d="M324.6,407.5 L326.6,412 L326.6,434.5 L324.6,439" stroke="#a98628" stroke-width="1" fill="none" stroke-opacity="0.6"/>
<rect x="333.4" y="406.8" width="15.6" height="32.4" rx="1.2" fill="url(#ring)"/>
<rect x="337.5" y="434.8" width="8" height="1.6" fill="#e6e8e9" fill-opacity="0.7"/>
<rect x="348.5" y="412.6" width="12" height="19.2" fill="url(#stub)"/>
<rect x="438" y="413.4" width="168" height="20.7" fill="url(#rtube)"/>
<rect x="358.3" y="393.4" width="40" height="59.8" rx="6" fill="url(#bnb)"/>
<rect x="358.5" y="399" width="1.8" height="48.5" fill="#565b5f" fill-opacity="0.6"/>
<path d="M397.4,388.8 L432,388.8 L434,389.4 Q441.8,390.4 441.8,398.5 L441.8,448.3 Q441.8,456.4 434,457.4 L432,458 L397.4,458 Q393.4,458 393.4,454 L393.4,392.8 Q393.4,388.8 397.4,388.8 Z" fill="url(#bnh)"/>
<line x1="397.6" y1="395.90" x2="431.6" y2="395.90" stroke="#131416" stroke-width="1.11" stroke-opacity="0.9"/>
<line x1="397.6" y1="394.67" x2="431.6" y2="394.67" stroke="#4d5256" stroke-width="0.89" stroke-opacity="0.55"/>
<line x1="397.6" y1="400.70" x2="431.6" y2="400.70" stroke="#131416" stroke-width="1.28" stroke-opacity="0.9"/>
<line x1="397.6" y1="399.29" x2="431.6" y2="399.29" stroke="#4d5256" stroke-width="1.02" stroke-opacity="0.55"/>
<line x1="397.6" y1="407.10" x2="431.6" y2="407.10" stroke="#131416" stroke-width="1.42" stroke-opacity="0.9"/>
<line x1="397.6" y1="405.54" x2="431.6" y2="405.54" stroke="#4d5256" stroke-width="1.14" stroke-opacity="0.55"/>
<line x1="397.6" y1="414.20" x2="431.6" y2="414.20" stroke="#131416" stroke-width="1.51" stroke-opacity="0.9"/>
<line x1="397.6" y1="412.54" x2="431.6" y2="412.54" stroke="#4d5256" stroke-width="1.21" stroke-opacity="0.55"/>
<line x1="397.6" y1="427.00" x2="431.6" y2="427.00" stroke="#131416" stroke-width="1.54" stroke-opacity="0.9"/>
<line x1="397.6" y1="425.30" x2="431.6" y2="425.30" stroke="#4d5256" stroke-width="1.24" stroke-opacity="0.55"/>
<line x1="397.6" y1="433.30" x2="431.6" y2="433.30" stroke="#131416" stroke-width="1.50" stroke-opacity="0.9"/>
<line x1="397.6" y1="431.65" x2="431.6" y2="431.65" stroke="#4d5256" stroke-width="1.20" stroke-opacity="0.55"/>
<line x1="397.6" y1="439.70" x2="431.6" y2="439.70" stroke="#131416" stroke-width="1.42" stroke-opacity="0.9"/>
<line x1="397.6" y1="438.14" x2="431.6" y2="438.14" stroke="#4d5256" stroke-width="1.14" stroke-opacity="0.55"/>
<line x1="397.6" y1="445.30" x2="431.6" y2="445.30" stroke="#131416" stroke-width="1.30" stroke-opacity="0.9"/>
<line x1="397.6" y1="443.87" x2="431.6" y2="443.87" stroke="#4d5256" stroke-width="1.04" stroke-opacity="0.55"/>
<line x1="397.6" y1="450.00" x2="431.6" y2="450.00" stroke="#131416" stroke-width="1.15" stroke-opacity="0.9"/>
<line x1="397.6" y1="448.73" x2="431.6" y2="448.73" stroke="#4d5256" stroke-width="0.92" stroke-opacity="0.55"/>
<path d="M432.3,390 L432.3,457" stroke="#1c1e20" stroke-width="1.2" fill="none" stroke-opacity="0.8"/>
<path d="M435.6,394 Q437.2,423 435.6,453" stroke="#50555a" stroke-width="1.3" fill="none" stroke-opacity="0.6"/>
<path d="M394.4,392 L394.4,455" stroke="#4a4f53" stroke-width="1" fill="none" stroke-opacity="0.6"/>
</g>

<!-- ============ LEADERS ============ -->
<g class="lead" id="leads">
  <path d="M68.6,366.8 V416.4"/>
  <path d="M220.2,368 V422.4"/>
  <path d="M287.2,350.4 V422.4"/>
  <path d="M318.2,433.5 V463.2"/>
  <path d="M414.8,427.5 V507.2"/>
  <path d="M486.3,367 V424.4"/>
</g>

<!-- ============ LABELS ============ -->
<g class="lbl" id="labels" opacity="0.999">
  <text x="71.5" y="334" text-anchor="middle" textLength="117" lengthAdjust="spacingAndGlyphs">Peristaltic Tubing</text>
  <text x="71.5" y="356" text-anchor="middle" textLength="94.5" lengthAdjust="spacingAndGlyphs">(not included)</text>
  <text x="220.1" y="358" text-anchor="middle" textLength="95.4" lengthAdjust="spacingAndGlyphs">Adapter Body</text>
  <text x="288.9" y="343" text-anchor="middle" textLength="42.2" lengthAdjust="spacingAndGlyphs">1/4-28</text>
  <text x="486.8" y="335" text-anchor="middle" textLength="184.5" lengthAdjust="spacingAndGlyphs">Rigid or Semi-Rigid Tubing</text>
  <text x="486.7" y="358" text-anchor="middle" textLength="94.2" lengthAdjust="spacingAndGlyphs">(not included)</text>
  <text x="318.9" y="483" text-anchor="middle" textLength="117.1" lengthAdjust="spacingAndGlyphs">Super Flangeless</text>
  <text x="318.7" y="499" text-anchor="middle" textLength="101.3" lengthAdjust="spacingAndGlyphs">Ferrule System</text>
  <text x="414.8" y="526" text-anchor="middle" textLength="80.4" lengthAdjust="spacingAndGlyphs">Female Nut</text>
</g>
</svg>
</body>
</html>
